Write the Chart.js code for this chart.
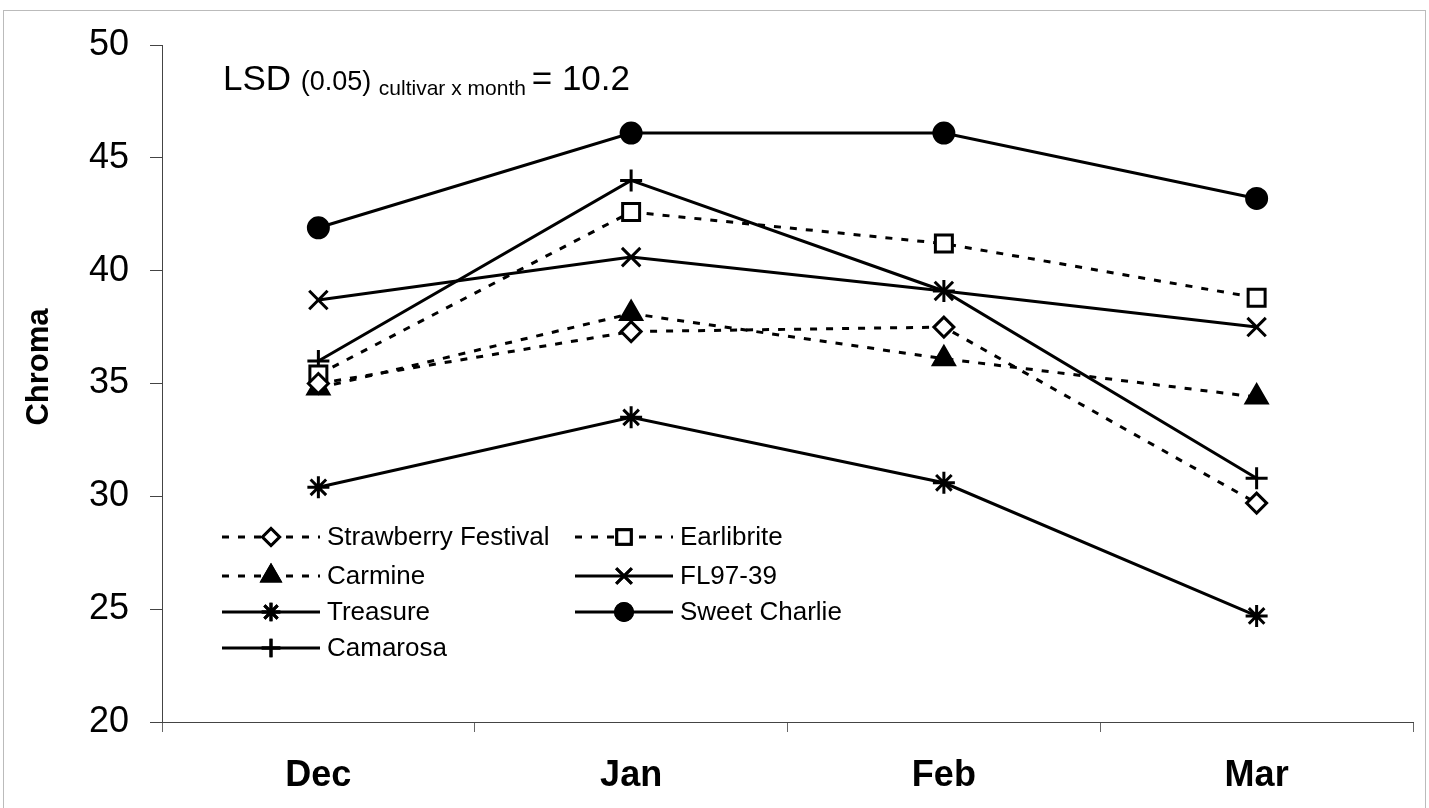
<!DOCTYPE html>
<html>
<head>
<meta charset="utf-8">
<script src="https://cdn.jsdelivr.net/npm/chart.js@4"></script>
<style>
  body { margin: 0; background: #fff; }
  canvas { display: block; }
</style>
</head>
<body>
<canvas id="chroma" width="1429" height="808"></canvas>
<script>
// data
const months = ['Dec', 'Jan', 'Feb', 'Mar'];
const strawberryFestival = [35.0, 37.3, 37.5, 29.7];
const earlibrite = [35.4, 42.6, 41.2, 38.8];
const carmine = [34.8, 38.1, 36.1, 34.4];
const fl9739 = [38.7, 40.6, 39.1, 37.5];
const treasure = [30.4, 33.5, 30.6, 24.7];
const sweetCharlie = [41.9, 46.1, 46.1, 43.2];
const camarosa = [36.0, 44.0, 39.1, 30.8];
const yTicks = [20, 25, 30, 35, 40, 45, 50];

const FONT = "'Liberation Sans', Arial, sans-serif";
const dash = [7, 9];

function series(label, data, style, dashed, fill, radius) {
    return {
        label: label,
        data: data,
        borderColor: '#000',
        borderWidth: 3,
        borderDash: dashed ? dash : [],
        pointStyle: style,
        pointRadius: radius,
        pointBorderWidth: 3,
        pointBorderColor: '#000',
        pointBackgroundColor: fill,
        pointHoverRadius: radius,
        tension: 0
    };
}

const datasets = [
    series('Strawberry Festival', strawberryFestival, 'rectRot', true, '#fff', 10),
    series('Earlibrite', earlibrite, 'rect', true, '#fff', 12),
    series('Carmine', carmine, 'triangle', true, '#000', 12),
    series('FL97-39', fl9739, 'crossRot', false, '#000', 13),
    series('Treasure', treasure, 'star', false, '#000', 11),
    series('Sweet Charlie', sweetCharlie, 'circle', false, '#000', 10),
    series('Camarosa', camarosa, 'cross', false, '#000', 11)
];

// legend inside the plot, two columns
const innerLegend = {
    id: 'innerLegend',
    afterDraw(chart) {
        const ctx = chart.ctx;
        const cols = [222, 575];
        const rows = [537, 576, 612, 648];
        ctx.save();
        chart.data.datasets.forEach(function (ds, i) {
            const x = cols[i % 2];
            const y = rows[Math.floor(i / 2)];
            ctx.strokeStyle = '#000';
            ctx.lineWidth = 3;
            ctx.setLineDash(ds.borderDash);
            ctx.beginPath();
            ctx.moveTo(x, y);
            ctx.lineTo(x + 98, y);
            ctx.stroke();
            ctx.setLineDash([]);
            Chart.helpers.drawPoint(ctx, {
                pointStyle: ds.pointStyle,
                radius: ds.pointRadius * 0.85,
                borderWidth: 3,
                rotation: 0
            }, x + 49, y);
            ctx.fillStyle = ds.pointBackgroundColor;
            ctx.fill();
            ctx.stroke();
            ctx.fillStyle = '#000';
            ctx.font = '26px ' + FONT;
            ctx.textBaseline = 'middle';
            ctx.textAlign = 'left';
            ctx.fillText(ds.label, x + 105, y + 1);
        });
        ctx.restore();
    }
};

// LSD note, axis title and the outer frame
const lsdNote = {
    id: 'lsdNote',
    afterDraw(chart) {
        const ctx = chart.ctx;
        ctx.save();
        ctx.fillStyle = '#000';
        ctx.textBaseline = 'alphabetic';
        ctx.textAlign = 'left';
        let x = 223;
        const base = 90;
        const parts = [
            ['LSD ', 35, 0],
            ['(0.05) ', 27, 0],
            ['cultivar x month ', 21, 5],
            ['= 10.2', 35, 0]
        ];
        parts.forEach(function (p) {
            ctx.font = p[1] + 'px ' + FONT;
            ctx.fillText(p[0], x, base + p[2]);
            x += ctx.measureText(p[0]).width;
        });

        ctx.translate(39, 367);
        ctx.rotate(-Math.PI / 2);
        ctx.textAlign = 'center';
        ctx.textBaseline = 'middle';
        ctx.font = 'bold 31px ' + FONT;
        ctx.fillText('Chroma', 0, 0);
        ctx.setTransform(1, 0, 0, 1, 0, 0);

        ctx.strokeStyle = '#bbb';
        ctx.lineWidth = 1;
        ctx.strokeRect(3.5, 10.5, 1422, 810);
        ctx.restore();
    }
};

new Chart(document.getElementById('chroma'), {
    type: 'line',
    data: { labels: months, datasets: datasets },
    options: {
        responsive: false,
        animation: false,
        layout: { padding: { top: 45, right: -4, bottom: 0, left: 0 } },
        plugins: {
            legend: { display: false },
            tooltip: { enabled: false }
        },
        scales: {
            x: {
                offset: true,
                grid: {
                    offset: true,
                    drawOnChartArea: false,
                    drawTicks: true,
                    tickLength: 10,
                    color: '#666'
                },
                border: { color: '#444', width: 1 },
                ticks: {
                    color: '#000',
                    padding: 22,
                    font: { family: FONT, size: 36, weight: 'bold' }
                },
                afterFit(scale) {
                    scale.height = 86;
                    scale.paddingLeft = 0;
                    scale.paddingRight = 0;
                }
            },
            y: {
                min: 20,
                max: 50,
                afterBuildTicks(scale) {
                    scale.ticks = yTicks.map(function (v) { return { value: v }; });
                },
                grid: {
                    drawOnChartArea: false,
                    drawTicks: true,
                    tickLength: 12,
                    color: '#444'
                },
                border: { color: '#444', width: 1 },
                ticks: {
                    color: '#000',
                    padding: 21,
                    font: { family: FONT, size: 36 }
                },
                afterFit(scale) { scale.width = 162; }
            }
        }
    },
    plugins: [innerLegend, lsdNote]
});
</script>
</body>
</html>
